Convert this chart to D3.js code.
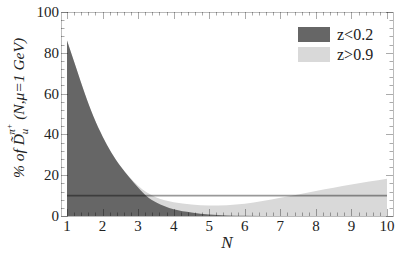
<!DOCTYPE html>
<html>
<head>
<meta charset="utf-8">
<script src="https://cdn.jsdelivr.net/npm/d3@7"></script>
<style>
  html, body { margin: 0; padding: 0; background: #fff; }
  svg { display: block; }
</style>
</head>
<body>
<div id="chart"></div>
<script>
// N values where the curves were read
const nLow = [1, 1.25, 1.5, 1.75, 2, 2.25, 2.5, 2.75, 3, 3.25, 3.5, 3.75, 4, 4.5, 5, 5.5, 6, 7, 8, 9, 10];
const lowZ = [86, 73, 60, 48.5, 39, 31, 24.5, 19, 14, 9.6, 6.8, 4.8, 3.3, 1.7, 0.7, 0.3, 0.1, 0, 0, 0, 0];

const nHigh = [1, 1.25, 1.5, 1.75, 2, 2.25, 2.5, 2.75, 3, 3.25, 3.5, 3.75, 4, 4.5, 5, 5.5, 6, 6.5, 7, 7.5, 8, 8.5, 9, 9.5, 10];
const highZ = [86, 73, 60, 48.5, 39, 31, 24.5, 19.2, 14.8, 11.5, 9.2, 7.7, 6.7, 5.6, 5.1, 5.3, 6, 7.3, 8.9, 10.6, 12.3, 13.9, 15.4, 16.9, 18.3];

const flatLevel = 10;

const xTicks = [1, 2, 3, 4, 5, 6, 7, 8, 9, 10];
const yTicks = [0, 20, 40, 60, 80, 100];
const legendItems = [
    { label: "z<0.2", color: "#666666" },
    { label: "z>0.9", color: "#d9d9d9" }
];

const width = 399, height = 259;
const frame = { left: 61, right: 393, top: 12, bottom: 216 };
const serif = "'Liberation Serif', 'Times New Roman', Times, 'DejaVu Serif', serif";

const svg = d3.select("#chart").append("svg")
    .attr("width", width)
    .attr("height", height)
    .attr("font-family", serif);

const x = d3.scaleLinear().domain([1, 10]).range([67, 387]);
const y = d3.scaleLinear().domain([0, 100]).range([frame.bottom, frame.top]);

// Filled areas: light first, dark on top
const area = d3.area()
    .x(d => x(d[0]))
    .y0(y(0))
    .y1(d => y(d[1]))
    .curve(d3.curveMonotoneX);

svg.append("path")
    .datum(nHigh.map((n, i) => [n, highZ[i]]))
    .attr("d", area)
    .attr("fill", legendItems[1].color);

svg.append("path")
    .datum(nLow.map((n, i) => [n, lowZ[i]]))
    .attr("d", area)
    .attr("fill", legendItems[0].color);

// Flat reference line
svg.append("line")
    .attr("x1", x(1)).attr("x2", x(10))
    .attr("y1", y(flatLevel)).attr("y2", y(flatLevel))
    .attr("stroke", "rgba(0,0,0,0.4)")
    .attr("stroke-width", 1.6);

// Frame
svg.append("rect")
    .attr("x", frame.left + 0.5).attr("y", frame.top + 0.5)
    .attr("width", frame.right - frame.left)
    .attr("height", frame.bottom - frame.top)
    .attr("fill", "none")
    .attr("stroke", "#bbbbbb")
    .attr("stroke-width", 1);

// Ticks (drawn inside the frame)
const tickG = svg.append("g")
    .attr("stroke", "rgba(0,0,0,0.33)")
    .attr("stroke-width", 1);

const xMinor = d3.range(1, 10.001, 0.2);
xMinor.forEach(v => {
    const major = Math.abs(v - Math.round(v)) < 1e-6;
    const len = major ? 7 : 3.5;
    const px = Math.round(x(v)) + 0.5;
    tickG.append("line").attr("x1", px).attr("x2", px)
        .attr("y1", frame.bottom).attr("y2", frame.bottom - len);
    tickG.append("line").attr("x1", px).attr("x2", px)
        .attr("y1", frame.top).attr("y2", frame.top + len);
});

const yMinor = d3.range(0, 100.001, 4);
yMinor.forEach(v => {
    const major = v % 20 === 0;
    const len = major ? 7 : 3.5;
    const py = Math.round(y(v)) + 0.5;
    tickG.append("line").attr("x1", frame.left).attr("x2", frame.left + len)
        .attr("y1", py).attr("y2", py);
    tickG.append("line").attr("x1", frame.right).attr("x2", frame.right - len)
        .attr("y1", py).attr("y2", py);
});

// Tick labels
svg.append("g").selectAll("text")
    .data(xTicks)
    .join("text")
    .attr("x", d => x(d))
    .attr("y", 231)
    .attr("text-anchor", "middle")
    .attr("font-size", 15)
    .attr("fill", "#222")
    .text(d => d);

svg.append("g").selectAll("text")
    .data(yTicks)
    .join("text")
    .attr("x", frame.left - 2)
    .attr("y", d => y(d) + 5)
    .attr("text-anchor", "end")
    .attr("font-size", 15)
    .attr("fill", "#222")
    .text(d => d);

// Axis titles
svg.append("text")
    .attr("x", 227)
    .attr("y", 248)
    .attr("text-anchor", "middle")
    .attr("font-size", 17)
    .attr("font-style", "italic")
    .attr("fill", "#222")
    .text("N");

const yTitle = svg.append("text")
    .attr("transform", "translate(24,108) rotate(-90)")
    .attr("text-anchor", "middle")
    .attr("font-size", 15.5)
    .attr("font-style", "italic")
    .attr("fill", "#222");
yTitle.append("tspan").text("% of D\u0303");
yTitle.append("tspan").attr("font-size", 11).attr("dy", 4).text("u");
yTitle.append("tspan").attr("font-size", 11).attr("dx", -6).attr("dy", -13).text("\u03c0");
yTitle.append("tspan").attr("font-size", 8).attr("dy", -3).text("+");
yTitle.append("tspan").attr("dy", 12).text(" (N,\u03bc=1 GeV)");

// Legend
const legend = svg.append("g");
legendItems.forEach((d, i) => {
    legend.append("rect")
        .attr("x", 298).attr("y", 27 + i * 20)
        .attr("width", 32).attr("height", 15)
        .attr("fill", d.color);
    legend.append("text")
        .attr("x", 337).attr("y", 40 + i * 20)
        .attr("font-size", 16)
        .attr("fill", "#222")
        .text(d.label);
});
</script>
</body>
</html>
